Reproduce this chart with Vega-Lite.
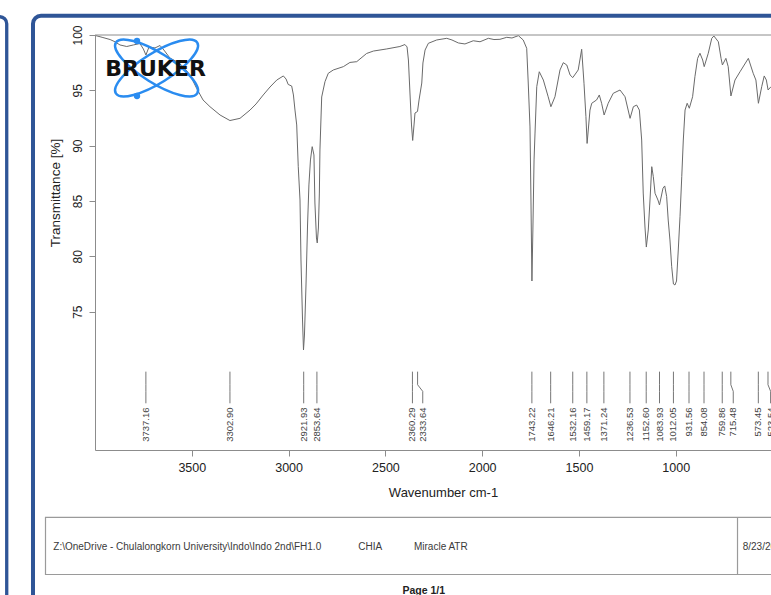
{
  "$schema": "https://vega.github.io/schema/vega-lite/v6.json",
  "width": 676,
  "height": 415,
  "autosize": {"type": "none"},
  "padding": {"left": 95, "top": 35, "right": 0, "bottom": 145},
  "background": "white",
  "config": {"view": {"stroke": null}, "font": "Liberation Sans"},
  "resolve": {"axis": {"x": "independent", "y": "independent"}},
  "datasets": {
    "spectrum": [
      {"wavenumber":3997,"transmittance":99.95},{"wavenumber":3959,"transmittance":99.77},{"wavenumber":3922,"transmittance":99.59},{"wavenumber":3897,"transmittance":99.39},{"wavenumber":3871,"transmittance":99.10},{"wavenumber":3836,"transmittance":98.96},{"wavenumber":3802,"transmittance":99.10},{"wavenumber":3768,"transmittance":99.23},{"wavenumber":3750,"transmittance":98.73},{"wavenumber":3737,"transmittance":98.19},{"wavenumber":3721,"transmittance":98.92},{"wavenumber":3690,"transmittance":98.83},{"wavenumber":3664,"transmittance":99.05},{"wavenumber":3644,"transmittance":98.64},{"wavenumber":3613,"transmittance":97.92},{"wavenumber":3578,"transmittance":97.59},{"wavenumber":3544,"transmittance":97.14},{"wavenumber":3509,"transmittance":96.39},{"wavenumber":3475,"transmittance":95.18},{"wavenumber":3442,"transmittance":94.13},{"wavenumber":3406,"transmittance":93.52},{"wavenumber":3354,"transmittance":92.77},{"wavenumber":3303,"transmittance":92.27},{"wavenumber":3251,"transmittance":92.47},{"wavenumber":3199,"transmittance":93.22},{"wavenumber":3168,"transmittance":93.77},{"wavenumber":3131,"transmittance":94.58},{"wavenumber":3096,"transmittance":95.30},{"wavenumber":3061,"transmittance":95.93},{"wavenumber":3027,"transmittance":96.30},{"wavenumber":3013,"transmittance":96.02},{"wavenumber":3002,"transmittance":95.53},{"wavenumber":2984,"transmittance":95.39},{"wavenumber":2975,"transmittance":94.58},{"wavenumber":2967,"transmittance":93.22},{"wavenumber":2958,"transmittance":91.87},{"wavenumber":2950,"transmittance":88.10},{"wavenumber":2941,"transmittance":85.09},{"wavenumber":2936,"transmittance":79.67},{"wavenumber":2928,"transmittance":74.25},{"wavenumber":2923,"transmittance":71.54},{"wavenumber":2918,"transmittance":72.89},{"wavenumber":2910,"transmittance":77.41},{"wavenumber":2902,"transmittance":82.83},{"wavenumber":2895,"transmittance":86.45},{"wavenumber":2887,"transmittance":88.71},{"wavenumber":2878,"transmittance":89.91},{"wavenumber":2869,"transmittance":89.16},{"wavenumber":2864,"transmittance":84.82},{"wavenumber":2856,"transmittance":81.66},{"wavenumber":2852,"transmittance":81.21},{"wavenumber":2846,"transmittance":82.56},{"wavenumber":2841,"transmittance":85.72},{"wavenumber":2838,"transmittance":89.61},{"wavenumber":2829,"transmittance":94.40},{"wavenumber":2812,"transmittance":95.78},{"wavenumber":2795,"transmittance":96.54},{"wavenumber":2769,"transmittance":96.84},{"wavenumber":2717,"transmittance":97.14},{"wavenumber":2683,"transmittance":97.52},{"wavenumber":2648,"transmittance":97.59},{"wavenumber":2597,"transmittance":98.33},{"wavenumber":2562,"transmittance":98.55},{"wavenumber":2493,"transmittance":98.74},{"wavenumber":2425,"transmittance":98.96},{"wavenumber":2399,"transmittance":99.14},{"wavenumber":2388,"transmittance":98.92},{"wavenumber":2381,"transmittance":97.74},{"wavenumber":2373,"transmittance":94.76},{"wavenumber":2365,"transmittance":91.87},{"wavenumber":2359,"transmittance":90.47},{"wavenumber":2352,"transmittance":91.87},{"wavenumber":2347,"transmittance":92.95},{"wavenumber":2334,"transmittance":93.09},{"wavenumber":2326,"transmittance":94.13},{"wavenumber":2312,"transmittance":95.66},{"wavenumber":2306,"transmittance":97.47},{"wavenumber":2295,"transmittance":98.64},{"wavenumber":2278,"transmittance":99.25},{"wavenumber":2235,"transmittance":99.55},{"wavenumber":2183,"transmittance":99.70},{"wavenumber":2156,"transmittance":99.55},{"wavenumber":2123,"transmittance":99.28},{"wavenumber":2089,"transmittance":99.19},{"wavenumber":2046,"transmittance":99.48},{"wavenumber":2011,"transmittance":99.39},{"wavenumber":1968,"transmittance":99.70},{"wavenumber":1939,"transmittance":99.59},{"wavenumber":1908,"transmittance":99.61},{"wavenumber":1873,"transmittance":99.79},{"wavenumber":1846,"transmittance":99.73},{"wavenumber":1813,"transmittance":99.94},{"wavenumber":1788,"transmittance":99.55},{"wavenumber":1770,"transmittance":98.80},{"wavenumber":1762,"transmittance":95.66},{"wavenumber":1753,"transmittance":91.69},{"wavenumber":1748,"transmittance":85.09},{"wavenumber":1743,"transmittance":77.77},{"wavenumber":1738,"transmittance":82.38},{"wavenumber":1732,"transmittance":88.71},{"wavenumber":1727,"transmittance":91.14},{"wavenumber":1718,"transmittance":95.33},{"wavenumber":1705,"transmittance":96.68},{"wavenumber":1684,"transmittance":95.93},{"wavenumber":1659,"transmittance":94.42},{"wavenumber":1645,"transmittance":93.52},{"wavenumber":1624,"transmittance":94.42},{"wavenumber":1598,"transmittance":96.84},{"wavenumber":1581,"transmittance":97.50},{"wavenumber":1563,"transmittance":97.29},{"wavenumber":1546,"transmittance":96.39},{"wavenumber":1532,"transmittance":96.15},{"wavenumber":1504,"transmittance":96.84},{"wavenumber":1486,"transmittance":98.71},{"wavenumber":1474,"transmittance":95.64},{"wavenumber":1464,"transmittance":92.62},{"wavenumber":1458,"transmittance":90.20},{"wavenumber":1443,"transmittance":93.22},{"wavenumber":1434,"transmittance":93.83},{"wavenumber":1409,"transmittance":94.13},{"wavenumber":1395,"transmittance":94.58},{"wavenumber":1383,"transmittance":93.83},{"wavenumber":1370,"transmittance":92.77},{"wavenumber":1349,"transmittance":93.83},{"wavenumber":1323,"transmittance":94.73},{"wavenumber":1288,"transmittance":95.03},{"wavenumber":1262,"transmittance":94.42},{"wavenumber":1236,"transmittance":92.47},{"wavenumber":1219,"transmittance":93.52},{"wavenumber":1202,"transmittance":93.67},{"wavenumber":1188,"transmittance":93.22},{"wavenumber":1176,"transmittance":90.51},{"wavenumber":1168,"transmittance":85.72},{"wavenumber":1159,"transmittance":82.65},{"wavenumber":1152,"transmittance":80.84},{"wavenumber":1142,"transmittance":82.38},{"wavenumber":1133,"transmittance":85.09},{"wavenumber":1124,"transmittance":88.10},{"wavenumber":1116,"transmittance":87.20},{"wavenumber":1107,"transmittance":85.70},{"wavenumber":1092,"transmittance":85.09},{"wavenumber":1084,"transmittance":84.64},{"wavenumber":1066,"transmittance":86.15},{"wavenumber":1057,"transmittance":86.36},{"wavenumber":1047,"transmittance":85.39},{"wavenumber":1039,"transmittance":83.28},{"wavenumber":1030,"transmittance":81.48},{"wavenumber":1021,"transmittance":79.06},{"wavenumber":1012,"transmittance":77.50},{"wavenumber":1004,"transmittance":77.41},{"wavenumber":996,"transmittance":77.77},{"wavenumber":987,"transmittance":80.57},{"wavenumber":978,"transmittance":83.58},{"wavenumber":969,"transmittance":87.20},{"wavenumber":961,"transmittance":90.51},{"wavenumber":952,"transmittance":93.22},{"wavenumber":941,"transmittance":93.83},{"wavenumber":930,"transmittance":93.38},{"wavenumber":913,"transmittance":94.42},{"wavenumber":901,"transmittance":96.23},{"wavenumber":887,"transmittance":97.89},{"wavenumber":875,"transmittance":98.35},{"wavenumber":861,"transmittance":97.74},{"wavenumber":853,"transmittance":97.14},{"wavenumber":832,"transmittance":98.35},{"wavenumber":814,"transmittance":99.70},{"wavenumber":803,"transmittance":99.91},{"wavenumber":780,"transmittance":99.39},{"wavenumber":766,"transmittance":97.89},{"wavenumber":759,"transmittance":97.29},{"wavenumber":741,"transmittance":97.89},{"wavenumber":729,"transmittance":97.14},{"wavenumber":715,"transmittance":94.49},{"wavenumber":694,"transmittance":95.93},{"wavenumber":668,"transmittance":96.68},{"wavenumber":625,"transmittance":97.89},{"wavenumber":600,"transmittance":96.54},{"wavenumber":586,"transmittance":95.93},{"wavenumber":573,"transmittance":93.83},{"wavenumber":556,"transmittance":95.33},{"wavenumber":543,"transmittance":96.30},{"wavenumber":532,"transmittance":95.93},{"wavenumber":523,"transmittance":95.03},{"wavenumber":508,"transmittance":95.33},{"wavenumber":487,"transmittance":95.48}
    ],
    "peaks": [
      {"peak":3737.16,"label":"3737.16","label_at":3737.16},
      {"peak":3302.90,"label":"3302.90","label_at":3302.90},
      {"peak":2921.93,"label":"2921.93","label_at":2921.93},
      {"peak":2853.64,"label":"2853.64","label_at":2853.64},
      {"peak":2360.29,"label":"2360.29","label_at":2360.29},
      {"peak":2333.64,"label":"2333.64","label_at":2307},
      {"peak":1743.22,"label":"1743.22","label_at":1743.22},
      {"peak":1646.21,"label":"1646.21","label_at":1646.21},
      {"peak":1532.16,"label":"1532.16","label_at":1532.16},
      {"peak":1459.17,"label":"1459.17","label_at":1459.17},
      {"peak":1371.24,"label":"1371.24","label_at":1371.24},
      {"peak":1236.53,"label":"1236.53","label_at":1236.53},
      {"peak":1152.60,"label":"1152.60","label_at":1152.60},
      {"peak":1083.93,"label":"1083.93","label_at":1083.93},
      {"peak":1012.05,"label":"1012.05","label_at":1012.05},
      {"peak":931.56,"label":"931.56","label_at":931.56},
      {"peak":854.08,"label":"854.08","label_at":854.08},
      {"peak":759.86,"label":"759.86","label_at":759.86},
      {"peak":715.48,"label":"715.48","label_at":703},
      {"peak":573.45,"label":"573.45","label_at":573.45},
      {"peak":523.54,"label":"523.54","label_at":510}
    ]
  },
  "layer": [
    {
      "data": {"name": "spectrum"},
      "mark": {"type": "line", "stroke": "#6a6a6a", "strokeWidth": 1, "clip": true},
      "encoding": {
        "x": {
          "field": "wavenumber", "type": "quantitative",
          "scale": {"domain": [508, 4000], "reverse": true, "nice": false, "zero": false},
          "axis": {
            "title": "Wavenumber cm-1", "values": [1000, 1500, 2000, 2500, 3000, 3500], "format": "d",
            "grid": false, "domainColor": "#8c8c8c", "tickColor": "#8c8c8c", "tickSize": 6,
            "labelFontSize": 12.5, "labelColor": "#222222", "labelPadding": 5,
            "titleFontSize": 13, "titleFontWeight": "normal", "titleColor": "#222222",
            "titleX": 348, "titleY": 42, "titleAlign": "center", "titleBaseline": "middle"
          }
        },
        "y": {
          "field": "transmittance", "type": "quantitative",
          "scale": {"domain": [62.5, 100], "nice": false, "zero": false},
          "axis": {
            "title": "Transmittance [%]", "values": [75, 80, 85, 90, 95, 100],
            "grid": false, "domainColor": "#8c8c8c", "tickColor": "#8c8c8c", "tickSize": 6,
            "labelAngle": 270, "labelAlign": "center", "labelBaseline": "alphabetic", "labelPadding": 8,
            "labelFontSize": 12, "labelColor": "#222222",
            "titleFontSize": 13.5, "titleFontWeight": "normal", "titleColor": "#222222",
            "titleAngle": 270, "titleX": -40, "titleY": 157.5, "titleAlign": "center", "titleBaseline": "middle"
          }
        }
      }
    },
    {
      "data": {"values": [{}]},
      "mark": {"type": "rect", "fillOpacity": 0, "stroke": "#2F5597", "strokeWidth": 3.3, "cornerRadius": 7, "clip": false},
      "encoding": {
        "x": {"datum": 4646, "type": "quantitative", "axis": null},
        "x2": {"datum": 4456},
        "y": {"datum": 101.65, "type": "quantitative", "axis": null},
        "y2": {"datum": 40}
      }
    },
    {
      "data": {"values": [{}]},
      "mark": {"type": "rect", "fillOpacity": 0, "stroke": "#2F5597", "strokeWidth": 4, "cornerRadius": 8, "clip": false},
      "encoding": {
        "x": {"datum": 4320.3, "type": "quantitative", "axis": null},
        "x2": {"datum": 300},
        "y": {"datum": 101.74, "type": "quantitative", "axis": null},
        "y2": {"datum": 40}
      }
    },
    {
      "data": {"values": [{}]},
      "mark": {"type": "rect", "fillOpacity": 0, "stroke": "#9a9a9a", "strokeWidth": 1.2, "clip": false},
      "encoding": {
        "x": {"datum": 4255.7, "type": "quantitative", "axis": null},
        "x2": {"datum": 300},
        "y": {"datum": 56.42, "type": "quantitative", "axis": null},
        "y2": {"datum": 51.25}
      }
    },
    {
      "data": {"values": [{}]},
      "mark": {"type": "rule", "stroke": "#9a9a9a", "strokeWidth": 1.2, "clip": false},
      "encoding": {
        "x": {"datum": 681, "type": "quantitative", "axis": null},
        "y": {"datum": 56.42, "type": "quantitative", "axis": null},
        "y2": {"datum": 51.25}
      }
    },
    {
      "data": {"values": [{}]},
      "mark": {"type": "rule", "stroke": "#8c8c8c", "strokeWidth": 1, "clip": false},
      "encoding": {
        "x": {"datum": 4000, "type": "quantitative", "axis": null},
        "x2": {"datum": 300},
        "y": {"datum": 100, "type": "quantitative", "axis": null}
      }
    },
    {
      "data": {"name": "peaks"},
      "mark": {"type": "rule", "stroke": "#666666", "strokeWidth": 0.9},
      "encoding": {
        "x": {"field": "peak", "type": "quantitative", "axis": null},
        "y": {"datum": 69.58, "type": "quantitative", "axis": null},
        "y2": {"datum": 68.4}
      }
    },
    {
      "data": {"name": "peaks"},
      "mark": {"type": "rule", "stroke": "#666666", "strokeWidth": 0.9},
      "encoding": {
        "x": {"field": "peak", "type": "quantitative", "axis": null},
        "x2": {"field": "label_at"},
        "y": {"datum": 68.4, "type": "quantitative", "axis": null},
        "y2": {"datum": 67.8}
      }
    },
    {
      "data": {"name": "peaks"},
      "mark": {"type": "rule", "stroke": "#666666", "strokeWidth": 0.9, "clip": false},
      "encoding": {
        "x": {"field": "label_at", "type": "quantitative", "axis": null},
        "y": {"datum": 67.8, "type": "quantitative", "axis": null},
        "y2": {"datum": 66.72}
      }
    },
    {
      "data": {"name": "peaks"},
      "mark": {"type": "text", "angle": 270, "align": "right", "baseline": "middle", "fontSize": 9.5, "color": "#444444", "clip": false},
      "encoding": {
        "x": {"field": "label_at", "type": "quantitative", "axis": null},
        "y": {"datum": 66.34, "type": "quantitative", "axis": null},
        "text": {"field": "label"}
      }
    },
    {
      "data": {"values": [{}]},
      "mark": {"type": "point", "shape": "M0.983,0.614C0.877,0.784,0.351,0.646,-0.192,0.307C-0.735,-0.032,-1.089,-0.444,-0.983,-0.614C-0.877,-0.784,-0.351,-0.646,0.192,-0.307C0.735,0.032,1.089,0.444,0.983,0.614ZM-0.983,0.614C-0.877,0.784,-0.351,0.646,0.192,0.307C0.735,-0.032,1.089,-0.444,0.983,-0.614C0.877,-0.784,0.351,-0.646,-0.192,-0.307C-0.735,0.032,-1.089,0.444,-0.983,0.614Z", "size": 6856, "filled": false, "stroke": "#2A8CF0", "strokeWidth": 2.5, "opacity": 1},
      "encoding": {
        "x": {"datum": 3682, "type": "quantitative", "axis": null},
        "y": {"datum": 97.02, "type": "quantitative", "axis": null}
      }
    },
    {
      "data": {"values": [{}]},
      "mark": {"type": "point", "shape": "circle", "size": 40, "filled": true, "color": "#2A8CF0", "opacity": 1},
      "encoding": {
        "x": {"datum": 3783, "type": "quantitative", "axis": null},
        "y": {"datum": 99.46, "type": "quantitative", "axis": null}
      }
    },
    {
      "data": {"values": [{}]},
      "mark": {"type": "point", "shape": "circle", "size": 40, "filled": true, "color": "#2A8CF0", "opacity": 1},
      "encoding": {
        "x": {"datum": 3783, "type": "quantitative", "axis": null},
        "y": {"datum": 94.49, "type": "quantitative", "axis": null}
      }
    },
    {
      "data": {"values": [{"text": "BRUKER"}]},
      "mark": {"type": "text", "font": "DejaVu Sans", "fontWeight": "bold", "fontSize": 22, "color": "#111111", "align": "center", "baseline": "middle"},
      "encoding": {
        "x": {"datum": 3687, "type": "quantitative", "axis": null},
        "y": {"datum": 96.97, "type": "quantitative", "axis": null},
        "text": {"field": "text"}
      }
    },
    {
      "data": {"values": [{"text": "Z:\\OneDrive - Chulalongkorn University\\Indo\\Indo 2nd\\FH1.0"}]},
      "mark": {"type": "text", "fontSize": 10, "color": "#3a3a3a", "align": "left", "baseline": "middle", "clip": false},
      "encoding": {
        "x": {"datum": 4215.4, "type": "quantitative", "axis": null},
        "y": {"datum": 53.71, "type": "quantitative", "axis": null},
        "text": {"field": "text"}
      }
    },
    {
      "data": {"values": [{"text": "CHIA"}]},
      "mark": {"type": "text", "fontSize": 10, "color": "#3a3a3a", "align": "left", "baseline": "middle", "clip": false},
      "encoding": {
        "x": {"datum": 2639.9, "type": "quantitative", "axis": null},
        "y": {"datum": 53.71, "type": "quantitative", "axis": null},
        "text": {"field": "text"}
      }
    },
    {
      "data": {"values": [{"text": "Miracle ATR"}]},
      "mark": {"type": "text", "fontSize": 10, "color": "#3a3a3a", "align": "left", "baseline": "middle", "clip": false},
      "encoding": {
        "x": {"datum": 2352.2, "type": "quantitative", "axis": null},
        "y": {"datum": 53.71, "type": "quantitative", "axis": null},
        "text": {"field": "text"}
      }
    },
    {
      "data": {"values": [{"text": "8/23/2023"}]},
      "mark": {"type": "text", "fontSize": 10, "color": "#3a3a3a", "align": "left", "baseline": "middle", "clip": false},
      "encoding": {
        "x": {"datum": 654.3, "type": "quantitative", "axis": null},
        "y": {"datum": 53.71, "type": "quantitative", "axis": null},
        "text": {"field": "text"}
      }
    },
    {
      "data": {"values": [{"text": "Page 1/1"}]},
      "mark": {"type": "text", "fontSize": 10.5, "fontWeight": "bold", "color": "#222222", "align": "center", "baseline": "middle", "clip": false},
      "encoding": {
        "x": {"datum": 2301.6, "type": "quantitative", "axis": null},
        "y": {"datum": 49.76, "type": "quantitative", "axis": null},
        "text": {"field": "text"}
      }
    }
  ]
}
